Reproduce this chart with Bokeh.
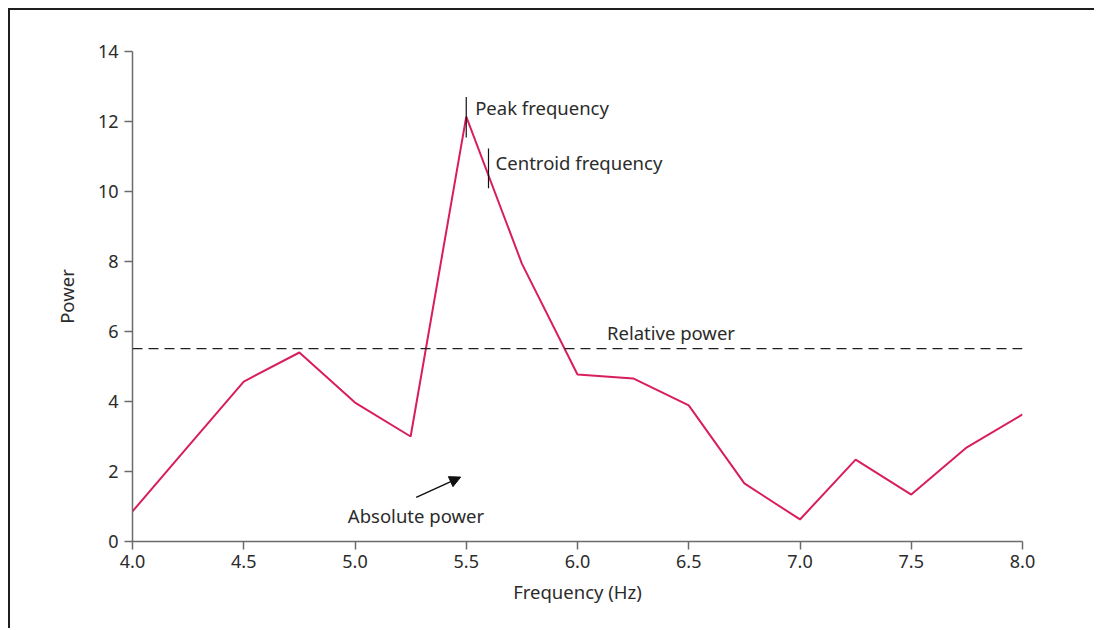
from bokeh.plotting import figure
from bokeh.models import Span, Label, Arrow, NormalHead, Range1d, FixedTicker
from bokeh.embed import file_html
from bokeh.resources import INLINE

# Data
freq = [4.0, 4.25, 4.5, 4.75, 5.0, 5.25, 5.5, 5.75, 6.0, 6.25, 6.5, 6.75, 7.0, 7.25, 7.5, 7.75, 8.0]
power = [0.86, 2.72, 4.57, 5.40, 3.97, 3.00, 12.14, 7.94, 4.77, 4.66, 3.89, 1.66, 0.63, 2.34, 1.34, 2.69, 3.63]
relative_power = 5.51
peak_freq = 5.5
centroid_freq = 5.6
x_ticks = [4.0, 4.5, 5.0, 5.5, 6.0, 6.5, 7.0, 7.5, 8.0]
y_ticks = [0, 2, 4, 6, 8, 10, 12, 14]

FONT = "Noto Sans"
AX = "#6b6b6b"
TXT = "#2b2b2b"

p = figure(width=1086, height=620, output_backend="svg", toolbar_location=None,
           x_range=Range1d(4.0, 8.0), y_range=Range1d(0, 14),
           min_border_left=122, min_border_right=74, min_border_top=41, min_border_bottom=89)
p.styles = {"box-shadow": "-2px -2px 0 0 #1e1e1e", "overflow": "hidden",
            "margin-top": "10px", "margin-left": "10px"}
p.outline_line_color = None
p.grid.visible = False
p.background_fill_color = "white"
p.border_fill_color = "white"

p.line(freq, power, line_color="#d81e5b", line_width=2)

p.add_layout(Span(location=relative_power, dimension="width", line_color="#222222",
                  line_width=1.3, line_dash="10 6"))

# peak / centroid markers
p.segment(x0=[peak_freq], y0=[11.54], x1=[peak_freq], y1=[12.7], line_color="#111111", line_width=1.2)
p.segment(x0=[centroid_freq], y0=[10.09], x1=[centroid_freq], y1=[11.23], line_color="#111111", line_width=1.2)

def lab(x, y, t, align="left"):
    p.add_layout(Label(x=x, y=y, text=t, text_font=FONT, text_font_size="18.5px",
                       text_color=TXT, text_align=align, text_baseline="middle"))

lab(5.54, 12.4, "Peak frequency")
lab(5.632, 10.82, "Centroid frequency")
lab(6.42, 5.98, "Relative power", "center")
lab(5.274, 0.74, "Absolute power", "center")

p.add_layout(Arrow(end=NormalHead(size=11, fill_color="#111111", line_color="#111111"),
                   x_start=5.275, y_start=1.26, x_end=5.475, y_end=1.84,
                   line_color="#111111", line_width=1.5))

for ax in (p.xaxis[0], p.yaxis[0]):
    ax.axis_line_color = AX
    ax.axis_line_width = 1.5
    ax.major_tick_line_color = AX
    ax.major_tick_line_width = 1.5
    ax.major_tick_in = 0
    ax.major_tick_out = 8
    ax.minor_tick_line_color = None
    ax.major_label_text_font = FONT
    ax.major_label_text_font_size = "18px"
    ax.major_label_text_color = TXT
    ax.axis_label_text_font = FONT
    ax.axis_label_text_font_size = "18.5px"
    ax.axis_label_text_font_style = "normal"
    ax.axis_label_text_color = TXT

p.xaxis.ticker = FixedTicker(ticks=x_ticks)
p.yaxis.ticker = FixedTicker(ticks=y_ticks)
p.xaxis.major_label_overrides = {t: f"{t:.1f}" for t in x_ticks}
p.xaxis.axis_label = "Frequency (Hz)"
p.yaxis.axis_label = "Power"
p.xaxis.major_label_standoff = 5
p.yaxis.major_label_standoff = 6
p.xaxis.axis_label_standoff = 8
p.yaxis.axis_label_standoff = 16

open("out.html", "w").write(file_html(p, INLINE))
